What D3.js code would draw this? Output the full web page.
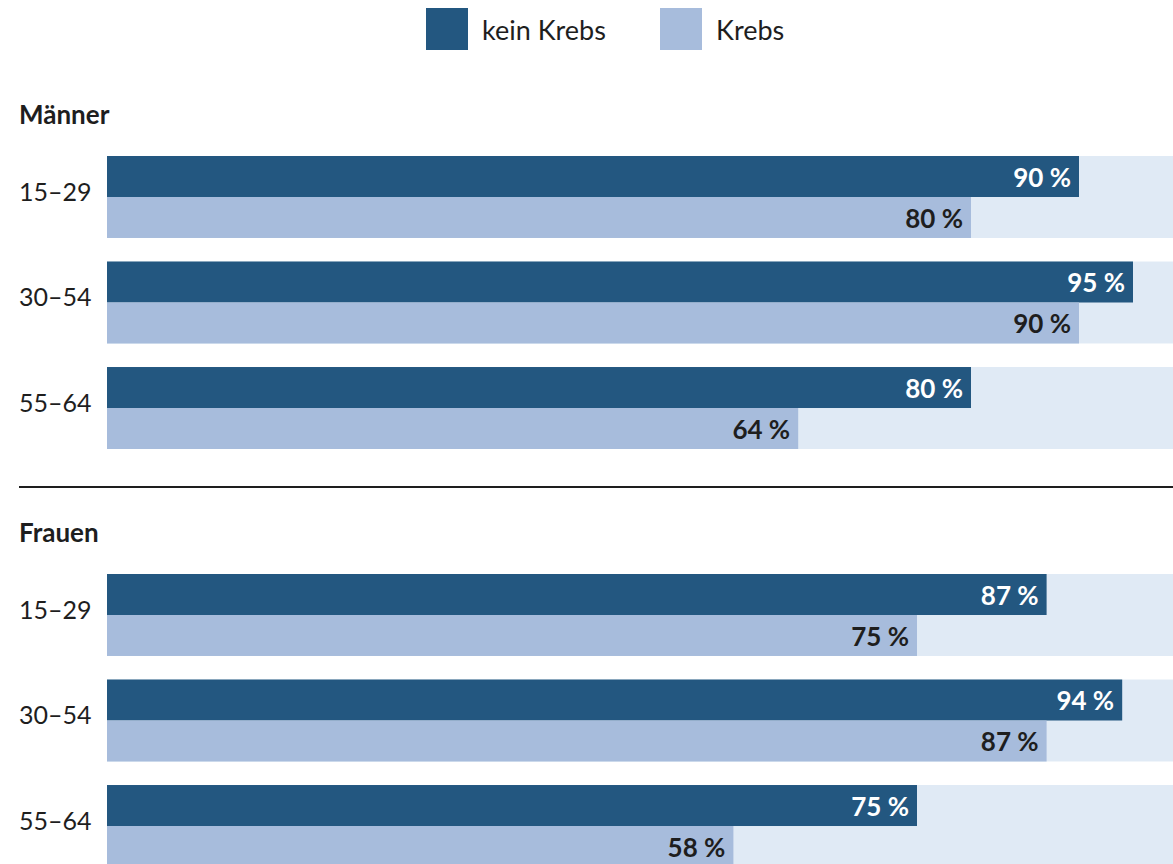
<!DOCTYPE html>
<html>
<head>
<meta charset="utf-8">
<script src="https://cdn.jsdelivr.net/npm/d3@7"></script>
<style>
  body { margin: 0; background: #fff; }
  svg { display: block; font-family: "Lato", "Noto Sans", sans-serif; }
</style>
</head>
<body>
<div class="vis"></div>
<script>
const groups = ["Männer", "Frauen"];
const ages = ["15–29", "30–54", "55–64"];
const series = ["kein Krebs", "Krebs"];
const maennerKeinKrebs = [90, 95, 80];
const maennerKrebs = [80, 90, 64];
const frauenKeinKrebs = [87, 94, 75];
const frauenKrebs = [75, 87, 58];

const colors = {"kein Krebs": "#235780", "Krebs": "#a7bcdc"};
const trackColor = "#e0eaf5";
const textColor = "#1e1e1e";

const width = 1173, height = 864;

const panels = [
    {name: groups[0], values: [maennerKeinKrebs, maennerKrebs], top: 156},
    {name: groups[1], values: [frauenKeinKrebs, frauenKrebs], top: 574}
];

const svg = d3.select('.vis').append('svg')
    .attr('width', width)
    .attr('height', height);

const x = d3.scaleLinear().domain([0, 100]).range([107, 1187]);

// legend
const legend = svg.append('g');
const legendX = [426, 660];
series.forEach((s, i) => {
    legend.append('rect')
        .attr('x', legendX[i]).attr('y', 8)
        .attr('width', 42).attr('height', 42)
        .attr('fill', colors[s]);
    legend.append('text')
        .attr('x', legendX[i] + 56).attr('y', 40)
        .attr('font-size', 27)
        .attr('fill', textColor)
        .text(s);
});

panels.forEach(p => {
    const g = svg.append('g');

    g.append('text')
        .attr('x', 19).attr('y', p.top - 32)
        .attr('font-size', 26).attr('font-weight', 700)
        .attr('fill', textColor)
        .text(p.name);

    const y = d3.scaleBand()
        .domain(ages)
        .range([p.top, p.top + 293])
        .paddingInner(0.223);

    const ySub = d3.scaleBand()
        .domain(series)
        .range([0, y.bandwidth()]);

    ages.forEach((a, i) => {
        const row = g.append('g').attr('transform', 'translate(0,' + y(a) + ')');

        row.append('rect')
            .attr('x', x(0)).attr('y', 0)
            .attr('width', x(100) - x(0))
            .attr('height', y.bandwidth())
            .attr('fill', trackColor);

        row.append('text')
            .attr('x', 19).attr('y', y.bandwidth() / 2 - 5)
            .attr('dy', '0.35em')
            .attr('font-size', 25)
            .attr('fill', textColor)
            .text(a);

        series.forEach((s, j) => {
            const v = p.values[j][i];
            row.append('rect')
                .attr('x', x(0)).attr('y', ySub(s))
                .attr('width', x(v) - x(0))
                .attr('height', ySub.bandwidth())
                .attr('fill', colors[s]);
            row.append('text')
                .attr('x', x(v) - 8)
                .attr('y', ySub(s) + ySub.bandwidth() / 2 + 1)
                .attr('dy', '0.35em')
                .attr('text-anchor', 'end')
                .attr('font-size', 26).attr('font-weight', 700)
                .attr('fill', j === 0 ? '#fff' : textColor)
                .text(v + ' %');
        });
    });
});

// separator between the two panels
svg.append('line')
    .attr('x1', 19).attr('x2', width)
    .attr('y1', 487).attr('y2', 487)
    .attr('stroke', textColor)
    .attr('stroke-width', 2);
</script>
</body>
</html>
